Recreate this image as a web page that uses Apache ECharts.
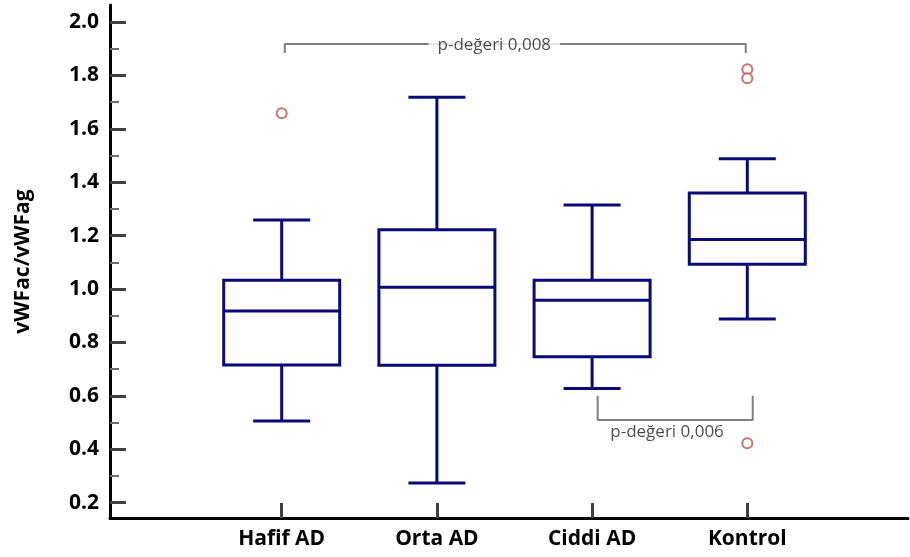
<!DOCTYPE html>
<html>
<head>
<meta charset="utf-8">
<script src="https://cdn.jsdelivr.net/npm/echarts@6/dist/echarts.min.js"></script>
<style>
html,body{margin:0;padding:0;background:#fff;}
#chart{width:910px;height:557px;}
</style>
</head>
<body>
<div id="chart"></div>
<script>
// ---- data ----
var categories = ['Hafif AD', 'Orta AD', 'Ciddi AD', 'Kontrol'];
// [lower whisker, Q1, median, Q3, upper whisker]
var boxStats = [
  [0.506, 0.715, 0.918, 1.033, 1.258],
  [0.273, 0.714, 1.007, 1.222, 1.718],
  [0.627, 0.746, 0.958, 1.033, 1.315],
  [0.888, 1.093, 1.185, 1.360, 1.488]
];
// outliers: [category index, value]
var outliers = [
  [0, 1.658],
  [3, 1.823],
  [3, 1.789],
  [3, 0.422]
];
var yTickLabels = [0.2, 0.4, 0.6, 0.8, 1.0, 1.2, 1.4, 1.6, 1.8, 2.0];
var yMinorTicks = [0.3, 0.5, 0.7, 0.9, 1.1, 1.3, 1.5, 1.7, 1.9];
var yAxisName = 'vWFac/vWFag';
// significance brackets
var bracketTop = { from: 0.02, to: 2.99, level: 1.918, leg: 1.884, text: 'p-değeri 0,008', textPos: [1.37, 1.914] };
var bracketBottom = { from: 2.036, to: 3.035, level: 0.509, leg: 0.600, text: 'p-değeri 0,006', textPos: [2.483, 0.464] };

// ---- build ----
var boxData = boxStats.map(function (s, i) { return [i, s[0], s[1], s[2], s[3], s[4]]; });

function bracketLine(b) {
  return [[b.from, b.leg], [b.from, b.level], [b.to, b.level], [b.to, b.leg]];
}

var navy = '#0a0a76';
var BOX_W = 116, CAP_W = 57;

function renderBox(params, api) {
  var x = api.value(0);
  var pLow = api.coord([x, api.value(1)]);
  var pQ1 = api.coord([x, api.value(2)]);
  var pMed = api.coord([x, api.value(3)]);
  var pQ3 = api.coord([x, api.value(4)]);
  var pHigh = api.coord([x, api.value(5)]);
  var cx = pMed[0];
  var style = { stroke: navy, lineWidth: 3, fill: null };
  return {
    type: 'group',
    children: [
      { type: 'line', shape: { x1: cx, y1: pQ3[1], x2: cx, y2: pHigh[1] }, style: style },
      { type: 'line', shape: { x1: cx, y1: pQ1[1], x2: cx, y2: pLow[1] }, style: style },
      { type: 'line', shape: { x1: cx - CAP_W / 2, y1: pHigh[1], x2: cx + CAP_W / 2, y2: pHigh[1] }, style: style },
      { type: 'line', shape: { x1: cx - CAP_W / 2, y1: pLow[1], x2: cx + CAP_W / 2, y2: pLow[1] }, style: style },
      { type: 'rect', shape: { x: cx - BOX_W / 2, y: pQ3[1], width: BOX_W, height: pQ1[1] - pQ3[1] }, style: { stroke: navy, lineWidth: 3, fill: '#fff' } },
      { type: 'line', shape: { x1: cx - BOX_W / 2, y1: pMed[1], x2: cx + BOX_W / 2, y2: pMed[1] }, style: style }
    ]
  };
}

var chart = echarts.init(document.getElementById('chart'));
var yMin = 0.1423, yMax = 2.0637;
var labelFont = { fontFamily: 'Open Sans', fontWeight: 'bold', fontSize: 21, color: '#000' };
var option = {
  animation: false,
  backgroundColor: '#fff',
  grid: { left: 110, right: 2, top: 5, bottom: 39 },
  xAxis: {
    type: 'value',
    min: -1.1063,
    max: 4.0355,
    splitLine: { show: false },
    axisLine: { show: true, onZero: false, lineStyle: { color: '#000', width: 3 } },
    axisTick: {
      show: true, inside: true, length: 15,
      customValues: categories.map(function (c, i) { return i; }),
      lineStyle: { color: '#404040', width: 3 }
    },
    axisLabel: Object.assign({
      show: true,
      customValues: categories.map(function (c, i) { return i; }),
      formatter: function (v) { return categories[Math.round(v)] || ''; },
      margin: 11
    }, labelFont)
  },
  yAxis: [{
    type: 'value',
    min: yMin,
    max: yMax,
    splitLine: { show: false },
    axisLine: { show: true, onZero: false, lineStyle: { color: '#000', width: 3 } },
    axisTick: {
      show: true, inside: true, length: 16,
      customValues: yTickLabels,
      lineStyle: { color: '#404040', width: 3 }
    },
    axisLabel: Object.assign({
      show: true,
      customValues: yTickLabels,
      formatter: function (v) { return v.toFixed(1); },
      margin: 11
    }, labelFont),
    name: yAxisName,
    nameLocation: 'middle',
    nameRotate: 90,
    nameGap: 76,
    nameTextStyle: labelFont
  }, {
    type: 'value',
    min: yMin,
    max: yMax,
    position: 'left',
    splitLine: { show: false },
    axisLine: { show: false, onZero: false },
    axisTick: {
      show: true, inside: true, length: 9,
      customValues: yMinorTicks,
      lineStyle: { color: '#707070', width: 2 }
    },
    axisLabel: { show: false }
  }],
  series: [
    {
      type: 'custom',
      name: 'boxes',
      data: boxData,
      renderItem: renderBox,
      encode: { x: 0, y: [1, 2, 3, 4, 5] },
      z: 2
    },
    {
      type: 'scatter',
      name: 'outliers',
      data: outliers,
      symbol: 'emptyCircle',
      symbolSize: 10,
      itemStyle: { color: '#c0504d', borderColor: '#c0504d', borderWidth: 1.3 },
      z: 4
    },
    {
      type: 'line',
      data: bracketLine(bracketTop),
      symbol: 'none',
      lineStyle: { color: '#7f7f7f', width: 2 },
      z: 5
    },
    {
      type: 'line',
      data: bracketLine(bracketBottom),
      symbol: 'none',
      lineStyle: { color: '#7f7f7f', width: 2 },
      z: 5
    },
    {
      type: 'scatter',
      symbolSize: 0,
      data: [
        { value: bracketTop.textPos, name: bracketTop.text },
        { value: bracketBottom.textPos, name: bracketBottom.text }
      ],
      label: {
        show: true,
        position: 'inside',
        formatter: function (p) { return p.name; },
        fontFamily: 'Open Sans', fontSize: 17, color: '#1e1e1e',
        backgroundColor: '#fff',
        padding: [2, 9]
      },
      z: 6
    }
  ]
};
chart.setOption(option);
</script>
</body>
</html>
